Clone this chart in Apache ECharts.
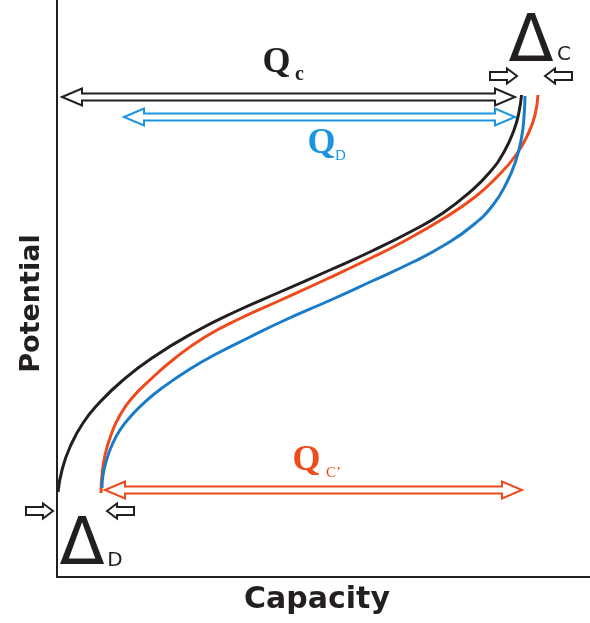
<!DOCTYPE html>
<html>
<head>
<meta charset="utf-8">
<script src="https://cdn.jsdelivr.net/npm/echarts@6/dist/echarts.min.js"></script>
<style>
    html, body { margin: 0; padding: 0; background: #fff; }
    #chart { width: 590px; height: 623px; }
</style>
</head>
<body>
<div id="chart"></div>
<script>
// arbitrary units, origin at the axis corner
const chargeCapacity = [1, 5, 13, 26, 43, 65, 95, 136, 182, 223, 273, 315, 355, 386, 413, 433, 447, 457, 462, 464.5];
const chargePotential = [85, 107, 130, 154, 175, 196, 219, 244, 267, 285, 307, 326, 346, 364, 385, 405, 425, 447, 465, 482];

const recharge2Capacity = [44, 45, 48, 54, 63, 75, 94, 117, 148, 184, 224, 272, 312, 340, 389, 418, 439, 459, 472, 478, 481];
const recharge2Potential = [84, 102, 122, 142, 162, 179, 198, 218, 240, 259, 277, 299, 318, 332, 360, 380, 399, 422, 445, 462, 482];

const dischargeCapacity = [45, 46, 49, 55, 63, 74, 88, 105, 133, 163, 193, 226, 276, 313, 356, 387.5, 415, 436, 450, 459, 464.5, 467, 468];
const dischargePotential = [89, 102, 115, 132, 147, 161, 175, 189, 208, 225, 240, 256, 278, 295, 315, 332, 351, 372, 395, 417, 439, 460, 481];

// capacity ranges (double arrows): Qc, QD, Qc'
const rangeFrom = [5, 67, 48];
const rangeTo = [458, 458, 465];
const rangeLevel = [480, 460, 87];
const rangeSub = ['c', 'D', 'C\u2019'];

// gaps between curve ends: ΔC (top), ΔD (bottom)
const gapFrom = [465, 1];
const gapTo = [482, 44];
const gapLevel = [501, 66];
const gapSub = ['C', 'D'];

const BLACK = '#231f20';
const RED = '#ee4a1c';
const BLUE = '#1a7cc8';
const BLUE_LIGHT = '#1c95df';

function zip(xs, ys) {
    return xs.map((x, i) => [x, ys[i]]);
}

// outline of a hollow horizontal arrow
function arrowShape(x0, x1, y, head0, head1, hl, hw, sw) {
    const pts = [];
    if (head0) pts.push([x0, y], [x0 + hl, y - hw], [x0 + hl, y - sw]);
    else pts.push([x0, y - sw]);
    if (head1) pts.push([x1 - hl, y - sw], [x1 - hl, y - hw], [x1, y], [x1 - hl, y + hw], [x1 - hl, y + sw]);
    else pts.push([x1, y - sw], [x1, y + sw]);
    if (head0) pts.push([x0 + hl, y + sw], [x0 + hl, y + hw]);
    else pts.push([x0, y + sw]);
    return pts;
}

const rangeStyle = [
    { stroke: BLACK, text: BLACK, q: [-12, -34], s: [11, -22], subFont: 'bold 20px "Liberation Serif"' },
    { stroke: BLUE_LIGHT, text: BLUE_LIGHT, q: [2, 27], s: [21, 39], subFont: '15px "Liberation Serif"' },
    { stroke: RED, text: RED, q: [-7, -29], s: [20, -17], subFont: '15px "Liberation Serif"' }
];
const gapStyle = [
    { delta: [0, -32], s: [33, -21] },
    { delta: [2, 36], s: [35, 50] }
];

function curve(data, color) {
    return {
        type: 'line',
        data: data,
        smooth: 0.5,
        smoothConstraint: false,
        showSymbol: false,
        lineStyle: { color: color, width: 3 }
    };
}

const chart = echarts.init(document.getElementById('chart'));

const option = {
    animation: false,
    grid: { left: 57, right: 0, top: 0, bottom: 46 },
    xAxis: {
        type: 'value',
        min: 0,
        max: 533,
        name: 'Capacity',
        nameLocation: 'middle',
        nameGap: 8,
        nameTextStyle: {
            color: BLACK,
            fontFamily: 'DejaVu Sans',
            fontWeight: 'bold',
            fontSize: 30,
            padding: [0, 13, 0, 0]
        },
        axisLine: { show: true, lineStyle: { color: BLACK, width: 2 } },
        axisTick: { show: false },
        axisLabel: { show: false },
        splitLine: { show: false }
    },
    yAxis: {
        type: 'value',
        min: 0,
        max: 577,
        name: 'Potential',
        nameLocation: 'middle',
        nameRotate: 90,
        nameGap: 12,
        nameTextStyle: {
            color: BLACK,
            fontFamily: 'DejaVu Sans',
            fontWeight: 'bold',
            fontSize: 27,
            padding: [0, 30, 0, 0]
        },
        axisLine: { show: true, lineStyle: { color: BLACK, width: 2 } },
        axisTick: { show: false },
        axisLabel: { show: false },
        splitLine: { show: false }
    },
    series: [
        curve(zip(chargeCapacity, chargePotential), BLACK),
        curve(zip(recharge2Capacity, recharge2Potential), RED),
        curve(zip(dischargeCapacity, dischargePotential), BLUE),
        {
            type: 'custom',
            clip: false,
            encode: { x: [0, 1], y: 2 },
            data: rangeFrom.map((f, i) => [f, rangeTo[i], rangeLevel[i]]),
            renderItem: function (params, api) {
                const i = params.dataIndex;
                const st = rangeStyle[i];
                const a = api.coord([api.value(0), api.value(2)]);
                const b = api.coord([api.value(1), api.value(2)]);
                const cx = (a[0] + b[0]) / 2;
                return {
                    type: 'group',
                    children: [
                        {
                            type: 'polygon',
                            shape: { points: arrowShape(a[0], b[0], a[1], true, true, 20, 8.5, 3.5) },
                            style: { fill: '#fff', stroke: st.stroke, lineWidth: 2 }
                        },
                        {
                            type: 'text',
                            x: cx + st.q[0],
                            y: a[1] + st.q[1],
                            style: { text: 'Q', font: 'bold 36px "Liberation Serif"', fill: st.text, align: 'center', verticalAlign: 'middle' }
                        },
                        {
                            type: 'text',
                            x: cx + st.s[0],
                            y: a[1] + st.s[1],
                            style: { text: rangeSub[i], font: st.subFont, fill: st.text, align: 'center', verticalAlign: 'middle' }
                        }
                    ]
                };
            }
        },
        {
            type: 'custom',
            clip: false,
            encode: { x: [0, 1], y: 2 },
            data: gapFrom.map((f, i) => [f, gapTo[i], gapLevel[i]]),
            renderItem: function (params, api) {
                const i = params.dataIndex;
                const st = gapStyle[i];
                const a = api.coord([api.value(0), api.value(2)]);
                const b = api.coord([api.value(1), api.value(2)]);
                const tipL = a[0] - 5;
                const tipR = b[0] + 6;
                const cx = (tipL + tipR) / 2;
                const y = a[1];
                return {
                    type: 'group',
                    children: [
                        {
                            type: 'polygon',
                            shape: { points: arrowShape(tipL - 27, tipL, y, false, true, 10, 7.5, 4) },
                            style: { fill: '#fff', stroke: BLACK, lineWidth: 2 }
                        },
                        {
                            type: 'polygon',
                            shape: { points: arrowShape(tipR, tipR + 27, y, true, false, 10, 7.5, 4) },
                            style: { fill: '#fff', stroke: BLACK, lineWidth: 2 }
                        },
                        {
                            type: 'text',
                            x: cx + st.delta[0],
                            y: y + st.delta[1],
                            style: { text: '\u0394', font: '66px "DejaVu Sans"', fill: BLACK, align: 'center', verticalAlign: 'middle' }
                        },
                        {
                            type: 'text',
                            x: cx + st.s[0],
                            y: y + st.s[1],
                            style: { text: gapSub[i], font: '20px "DejaVu Sans"', fill: BLACK, align: 'center', verticalAlign: 'middle' }
                        }
                    ]
                };
            }
        }
    ]
};

chart.setOption(option);
window.addEventListener('resize', () => chart.resize());
</script>
</body>
</html>
